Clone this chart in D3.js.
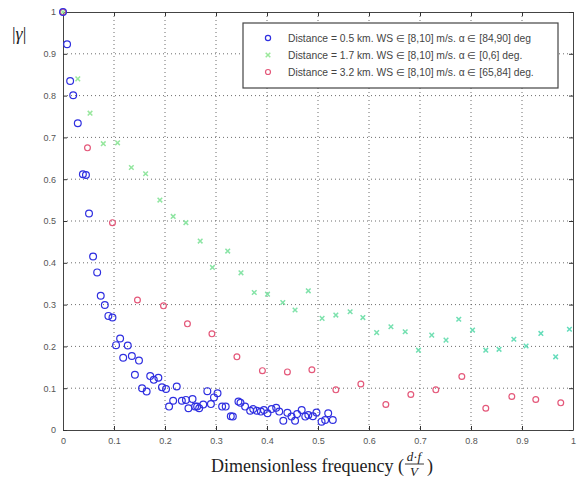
<!DOCTYPE html>
<html><head><meta charset="utf-8">
<script src="https://cdn.jsdelivr.net/npm/d3@7"></script>
<style>body{margin:0;background:#fff}svg{display:block}</style>
</head><body>
<svg id="c" width="581" height="485"></svg>
<script>
// ---- data ----
const xTicks = [0,0.1,0.2,0.3,0.4,0.5,0.6,0.7,0.8,0.9,1];
const yTicks = [0,0.1,0.2,0.3,0.4,0.5,0.6,0.7,0.8,0.9,1];

const blueX = [0,0.008,0.014,0.02,0.029,0.039,0.045,0.051,0.059,0.067,0.074,0.082,0.089,0.097,0.104,0.112,0.118,0.127,0.135,0.141,0.149,0.155,0.164,0.171,0.178,0.187,0.194,0.202,0.208,0.216,0.223,0.233,0.241,0.246,0.254,0.259,0.263,0.267,0.275,0.283,0.290,0.296,0.303,0.312,0.319,0.329,0.333,0.344,0.348,0.357,0.367,0.373,0.380,0.388,0.394,0.401,0.409,0.418,0.424,0.432,0.440,0.448,0.455,0.459,0.468,0.475,0.481,0.490,0.497,0.507,0.514,0.520,0.529];
const blueY = [1.0,0.923,0.835,0.801,0.734,0.612,0.61,0.518,0.415,0.377,0.321,0.299,0.273,0.269,0.203,0.219,0.173,0.202,0.177,0.132,0.166,0.100,0.092,0.129,0.120,0.125,0.102,0.098,0.056,0.070,0.104,0.070,0.072,0.052,0.074,0.056,0.056,0.052,0.061,0.093,0.062,0.078,0.088,0.056,0.056,0.033,0.032,0.068,0.065,0.056,0.046,0.050,0.046,0.044,0.048,0.040,0.050,0.053,0.044,0.022,0.041,0.032,0.022,0.038,0.048,0.032,0.036,0.033,0.042,0.020,0.024,0.040,0.024];

const greenX = [0,0.029,0.053,0.079,0.107,0.134,0.162,0.190,0.216,0.241,0.269,0.293,0.323,0.349,0.375,0.401,0.431,0.455,0.481,0.508,0.535,0.563,0.588,0.615,0.643,0.671,0.697,0.723,0.751,0.776,0.803,0.829,0.855,0.884,0.908,0.937,0.966,0.993];
const greenY = [1,0.840,0.758,0.685,0.687,0.628,0.613,0.55,0.511,0.496,0.452,0.389,0.428,0.376,0.329,0.325,0.305,0.287,0.333,0.267,0.275,0.283,0.269,0.233,0.247,0.235,0.191,0.227,0.215,0.265,0.239,0.191,0.193,0.217,0.201,0.231,0.175,0.241];

const redX = [0,0.048,0.097,0.146,0.197,0.244,0.292,0.341,0.391,0.440,0.488,0.535,0.584,0.633,0.682,0.731,0.782,0.829,0.880,0.927,0.976];
const redY = [1,0.675,0.496,0.311,0.297,0.254,0.230,0.175,0.142,0.139,0.144,0.096,0.110,0.061,0.085,0.096,0.128,0.052,0.080,0.073,0.065];

const legendLabels = [
  "Distance = 0.5 km. WS \u2208 [8,10] m/s. \u03b1 \u2208 [84,90] deg",
  "Distance = 1.7 km. WS \u2208 [8,10] m/s. \u03b1 \u2208 [0,6] deg.",
  "Distance = 3.2 km. WS \u2208 [8,10] m/s. \u03b1 \u2208 [65,84] deg."
];

// ---- layout ----
const L=63, R=573, T=12, B=430;
const svg = d3.select("#c");
const x = d3.scaleLinear().domain([0,1]).range([L,R]);
const y = d3.scaleLinear().domain([0,1]).range([B,T]);

// grid
const g = svg.append("g");
g.selectAll(".gx").data(xTicks.slice(1,-1)).enter().append("line")
  .attr("x1",d=>x(d)).attr("x2",d=>x(d)).attr("y1",T).attr("y2",B)
  .attr("stroke","#555").attr("stroke-width",1).attr("stroke-dasharray","1,3").attr("opacity",0.85);
g.selectAll(".gy").data(yTicks.slice(1,-1)).enter().append("line")
  .attr("y1",d=>y(d)).attr("y2",d=>y(d)).attr("x1",L).attr("x2",R)
  .attr("stroke","#555").attr("stroke-width",1).attr("stroke-dasharray","1,3").attr("opacity",0.85);

// axes with inward ticks
const fmt = d => d===0?"0":(d===1?"1":d3.format(".1f")(d));
const axB = svg.append("g").attr("transform",`translate(0,${B})`)
  .call(d3.axisBottom(x).tickValues(xTicks).tickFormat(fmt).tickSizeInner(-4).tickSizeOuter(0).tickPadding(8));
const axL = svg.append("g").attr("transform",`translate(${L},0)`)
  .call(d3.axisLeft(y).tickValues(yTicks).tickFormat(fmt).tickSizeInner(-4).tickSizeOuter(0).tickPadding(7));
const axT = svg.append("g").attr("transform",`translate(0,${T})`)
  .call(d3.axisTop(x).tickValues(xTicks).tickFormat("").tickSizeInner(-4).tickSizeOuter(0));
const axR = svg.append("g").attr("transform",`translate(${R},0)`)
  .call(d3.axisRight(y).tickValues(yTicks).tickFormat("").tickSizeInner(-4).tickSizeOuter(0));
[axB,axL,axT,axR].forEach(a=>{
  a.selectAll("path").attr("stroke","#444");
  a.selectAll("line").attr("stroke","#333");
  a.selectAll("text").attr("fill","#555").style("font-family","Liberation Sans, Arial, sans-serif").style("font-size","9px");
});

// series
const blue = blueX.map((v,i)=>({x:v,y:blueY[i]}));
const green = greenX.map((v,i)=>({x:v,y:greenY[i]}));
const red = redX.map((v,i)=>({x:v,y:redY[i]}));

const gcol = d3.interpolateRgb("#9be89b","#62dcbc");
const gs = svg.append("g");
gs.selectAll("path").data(green).enter().append("path")
  .attr("transform",d=>`translate(${x(d.x)},${y(d.y)})`)
  .attr("d","M-2.3,-2.3L2.3,2.3M-2.3,2.3L2.3,-2.3")
  .attr("stroke",d=>gcol(d.x)).attr("stroke-width",1.5).attr("fill","none");

svg.append("g").selectAll("circle").data(red).enter().append("circle")
  .attr("cx",d=>x(d.x)).attr("cy",d=>y(d.y)).attr("r",2.9)
  .attr("fill","none").attr("stroke","#e4587a").attr("stroke-width",1.2);

svg.append("g").selectAll("circle").data(blue).enter().append("circle")
  .attr("cx",d=>x(d.x)).attr("cy",d=>y(d.y)).attr("r",3.4)
  .attr("fill","none").attr("stroke","#2f2fe0").attr("stroke-width",1.2);

// legend
const lg = svg.append("g");
lg.append("rect").attr("x",243).attr("y",23).attr("width",315).attr("height",65)
  .attr("fill","#fff").attr("stroke","#444").attr("stroke-width",1.2);
const rowY = [38,55,72];
lg.append("circle").attr("cx",268).attr("cy",rowY[0]).attr("r",2.6).attr("fill","none").attr("stroke","#2f2fe0").attr("stroke-width",1.2);
lg.append("path").attr("transform",`translate(268,${rowY[1]})`).attr("d","M-2.3,-2.3L2.3,2.3M-2.3,2.3L2.3,-2.3").attr("stroke","#9be89b").attr("stroke-width",1.5);
lg.append("circle").attr("cx",268).attr("cy",rowY[2]).attr("r",2.5).attr("fill","none").attr("stroke","#e4587a").attr("stroke-width",1.2);
lg.selectAll("text").data(legendLabels).enter().append("text")
  .attr("x",288).attr("y",(d,i)=>rowY[i]+3.5)
  .text(d=>d).attr("fill","#444")
  .style("font-family","Liberation Sans, Arial, sans-serif").style("font-size","10.3px");

// y label
svg.append("text").attr("x",12).attr("y",40)
  .style("font-family","Liberation Serif, Times New Roman, serif").style("font-size","18px").attr("fill","#222")
  .html('|<tspan font-style="italic">\u03b3</tspan>|');

// x label
const xl = svg.append("text").attr("x",211).attr("y",472)
  .style("font-family","Liberation Serif, Times New Roman, serif").style("font-size","18px").attr("fill","#222")
  .text("Dimensionless frequency (");
const w = xl.node().getComputedTextLength();
const fx = 211 + w + 1;
const fr = svg.append("g").style("font-family","Liberation Serif, Times New Roman, serif").attr("fill","#222");
fr.append("text").attr("x",fx+9).attr("y",461).attr("text-anchor","middle").style("font-size","13px")
  .html('<tspan font-style="italic">d</tspan>\u00b7<tspan font-style="italic">f</tspan>');
fr.append("line").attr("x1",fx).attr("x2",fx+19).attr("y1",464).attr("y2",464).attr("stroke","#222").attr("stroke-width",0.9);
fr.append("text").attr("x",fx+9).attr("y",476).attr("text-anchor","middle").style("font-size","13px").attr("font-style","italic").text("V");
svg.append("text").attr("x",fx+22).attr("y",472)
  .style("font-family","Liberation Serif, Times New Roman, serif").style("font-size","18px").attr("fill","#222").text(")");
</script>
</body></html>
